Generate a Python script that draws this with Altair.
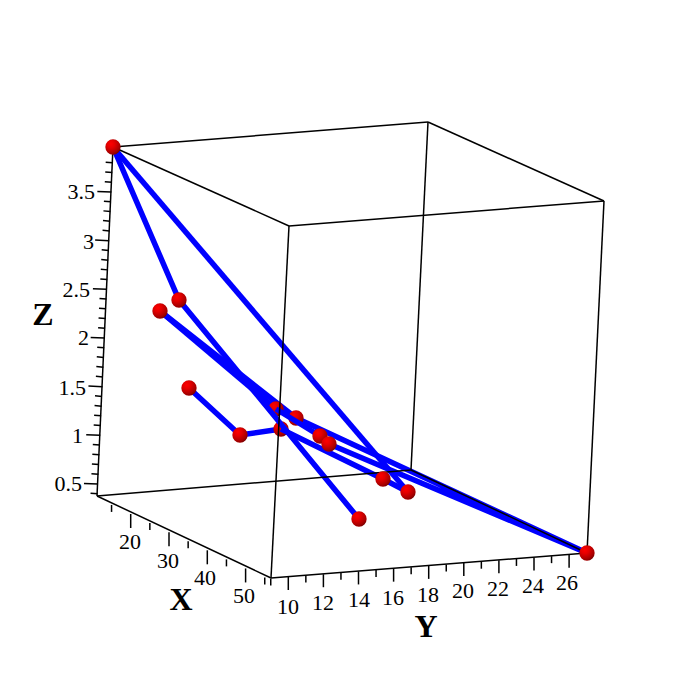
import altair as alt
import pandas as pd

# Projected positions of the 3D view (page pixels).
names = ["A","B","C","D","E","F","G","H","I","J","K","L","M","N"]
pt_x = [113,179,160,189,240,281,276,296,320,329,383,408,359,587]
pt_y = [147,300,311,388,435,429,409,418,436,444,479,492,519,553]
pos = dict(zip(names, zip(pt_x, pt_y)))

paths_under = [["D","E","F"],["L","A"],["C","H","N","J","I"],["C","G"]]
paths_over = [["F","K","L"],["I","G"],["A","B","M"]]
mid_spheres = ["F","G","H"]
front_spheres = ["A","B","C","D","E","I","J","K","L","M","N"]

corners = {"a":(113,147),"b":(428,122),"c":(604,201),"d":(289,226),
           "e":(97,496),"f":(271,578),"g":(587,553),"h":(411,470)}
edges = ["ab","bc","cd","da","ef","fg","gh","he","ae","bh","cg","df"]

z_major = [0.5,1,1.5,2,2.5,3,3.5]
z_label_right = [82,83,86,89,90,94,95]
z_label_y = [484,436,388,338,290,242,192]
x_major = [20,30,40,50]
x_label_x = [130,168,205,244]
x_label_y = [542,561,578,596]
y_major = [10,12,14,16,18,20,22,24,26]
y_label_x = [288,323,359,393,428,463,498,533,567]
y_label_y = [607,603,600,598,595,591,589,586,583]

z_ticks = [0.4+0.1*i for i in range(35)]
x_ticks = [15,20,25,30,35,40,45,50,55]
y_ticks = list(range(9,27))

titles = ["Z","X","Y"]
title_x = [43,181,426]
title_y = [315,600,627]

BLUE = "#0000ff"
SIZE = 684
def X(f="x"):
    return alt.X(f"{f}:Q", scale=alt.Scale(domain=[8,8+SIZE], range=[0,SIZE], nice=False, zero=False), axis=None)
def Y(f="y"):
    return alt.Y(f"{f}:Q", scale=alt.Scale(domain=[8,8+SIZE], range=[0,SIZE], nice=False, zero=False), axis=None)

rows = []
for e in edges:
    p, q = corners[e[0]], corners[e[1]]
    rows.append(dict(x=p[0],y=p[1],x2=q[0],y2=q[1]))
box = pd.DataFrame(rows)

def zy(z): return 484-(z-0.5)*97.33
def zx(z): return 98+(z-0.5)*4.45
def xx(v): return 130.7+(v-20)*3.83
def xy(v): return 514+(v-20)*1.815
def yx(v): return 288.3+(v-10)*17.55
def yy(v): return 577-(v-10)*1.39

tick_rows = []
for z in z_ticks:
    major = abs(z*2-round(z*2)) < 1e-6
    L = 14 if major else 7
    tick_rows.append(dict(x=zx(z),y=zy(z),x2=zx(z)-L,y2=zy(z)-0.6))
for v in x_ticks:
    L = 14 if v%10==0 else 7
    tick_rows.append(dict(x=xx(v),y=xy(v),x2=xx(v),y2=xy(v)+L))
for v in y_ticks:
    L = 13 if v%2==0 else 7
    tick_rows.append(dict(x=yx(v),y=yy(v),x2=yx(v),y2=yy(v)+L))
ticks = pd.DataFrame(tick_rows)

def lines(plist):
    rows = []
    for pid,p in enumerate(plist):
        for i,n in enumerate(p):
            rows.append(dict(x=pos[n][0],y=pos[n][1],pid=pid,i=i))
    return alt.Chart(pd.DataFrame(rows)).mark_line(color=BLUE,strokeWidth=5.5,strokeCap="butt",strokeJoin="round").encode(
        x=X(),y=Y(),detail="pid:N",order="i:Q")

sph = {"gradient":"radial","x1":0.36,"y1":0.3,"x2":0.36,"y2":0.3,"r1":0,"r2":0.85,
       "stops":[{"offset":0,"color":"#ff0000"},{"offset":0.3,"color":"#e40000"},{"offset":0.7,"color":"#a80000"},{"offset":1,"color":"#500000"}]}
def spheres(ns):
    d = pd.DataFrame([dict(x=pos[n][0],y=pos[n][1]) for n in ns])
    return alt.Chart(d).mark_point(shape="circle",filled=True,size=235,fill=sph,opacity=1,stroke=None).encode(x=X(),y=Y())

FONT = "Liberation Serif"
def texts(xs, ys, ts, align="center", size=22, weight="normal"):
    d = pd.DataFrame(dict(x=xs,y=ys,t=ts))
    return alt.Chart(d).mark_text(font=FONT,fontSize=size,fontWeight=weight,align=align,baseline="middle",color="black").encode(
        x=X(),y=Y(),text="t:N")

layers = [
    lines(paths_under),
    spheres(mid_spheres),
    lines(paths_over),
    alt.Chart(box).mark_rule(color="black",strokeWidth=1.5).encode(x=X(),y=Y(),x2="x2:Q",y2="y2:Q"),
    alt.Chart(ticks).mark_rule(color="black",strokeWidth=1.5).encode(x=X(),y=Y(),x2="x2:Q",y2="y2:Q"),
    spheres(front_spheres),
    texts(z_label_right,z_label_y,[str(v) for v in z_major],align="right"),
    texts(x_label_x,x_label_y,[str(v) for v in x_major]),
    texts(y_label_x,y_label_y,[str(v) for v in y_major]),
    texts(title_x,title_y,titles,size=32,weight="bold"),
]
chart = alt.layer(*layers).properties(width=SIZE,height=SIZE,padding=0,
    autosize=alt.AutoSizeParams(type="none"),background="white").configure_view(stroke=None)
chart.save("out.html", embed_options={"renderer":"svg","actions":False})
